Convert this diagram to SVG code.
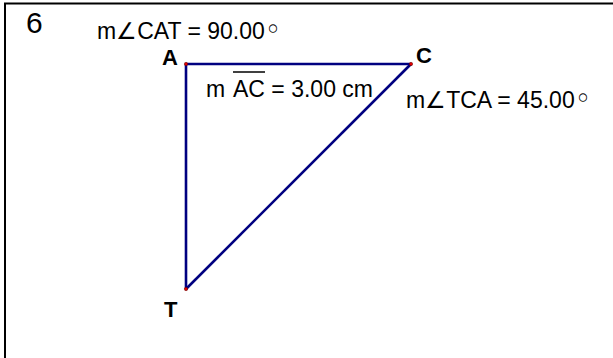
<svg xmlns="http://www.w3.org/2000/svg" width="613" height="358" viewBox="0 0 613 358">
<style>
.t{font-family:"Liberation Sans",Arial,sans-serif;font-size:23px;fill:#000}
.b{font-family:"Liberation Sans",Arial,sans-serif;font-size:22px;font-weight:bold;fill:#000}
.ang{font-family:"DejaVu Sans",sans-serif;font-size:23px;font-weight:200}
.deg{font-family:"DejaVu Sans",sans-serif;font-size:28px}
.seg{stroke:#000080;stroke-width:2.6;fill:none}
.pt{fill:#e00000;stroke:#600000;stroke-width:0.5}
</style>
<rect width="613" height="358" fill="#fff"/>
<path d="M5,358 V3.5 H613" stroke="#000" stroke-width="2" fill="none"/>
<text x="26" y="33" style="font-family:'Liberation Sans',Arial,sans-serif;font-size:30px">6</text>
<text class="t" x="97" y="39">m<tspan class="ang">∠</tspan>CAT = 90.00<tspan class="deg">◦</tspan></text>
<text class="t" x="406" y="108">m<tspan class="ang">∠</tspan>TCA = 45.00<tspan class="deg">◦</tspan></text>
<g id="connectors">
<line class="seg" x1="186" y1="64" x2="411" y2="64"/>
<line class="seg" x1="186" y1="64" x2="186" y2="289"/>
<line class="seg" x1="411" y1="64" x2="186" y2="289"/>
</g>
<g id="A"><circle class="pt" cx="186" cy="64" r="1.7"/><text class="b" x="162" y="65">A</text></g>
<g id="C"><circle class="pt" cx="411" cy="64" r="1.7"/><text class="b" x="416" y="63">C</text></g>
<g id="T"><circle class="pt" cx="186" cy="289" r="1.7"/><text class="b" x="164" y="317">T</text></g>
<g id="AC-label">
<text class="t" x="206" y="97">m <tspan x="233">AC</tspan> = 3.00 cm</text>
<line x1="233" y1="72" x2="265" y2="72" stroke="#000" stroke-width="1.5"/>
</g>
</svg>
